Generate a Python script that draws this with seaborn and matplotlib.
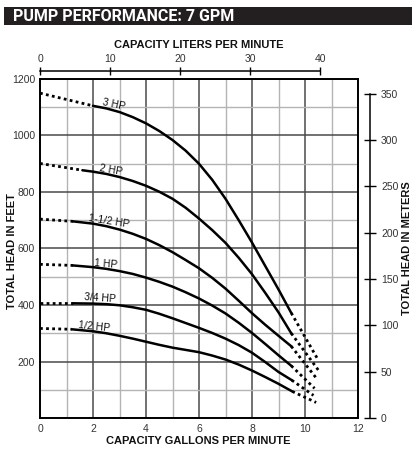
import matplotlib
matplotlib.use("Agg")
import matplotlib.pyplot as plt
import matplotlib.patches as mpatches
from matplotlib.ticker import MultipleLocator, FixedLocator
import pandas as pd
import seaborn as sns

# pump curves, capacity in gallons per minute vs total head in feet
hp = ["3 HP", "2 HP", "1-1/2 HP", "1 HP", "3/4 HP", "1/2 HP"]

gpm_3 = [2, 2.5, 3, 3.5, 4, 4.5, 5, 5.5, 6, 6.5, 7, 7.5, 8, 8.5, 9, 9.48]
ft_3 = [1105, 1096, 1083, 1065, 1043, 1016, 984, 946, 900, 843, 776, 700,
        621, 538, 455, 372]

gpm_2 = [1.6, 2, 2.5, 3, 3.5, 4, 4.5, 5, 5.5, 6, 6.5, 7, 7.5, 8, 8.5, 9, 9.48]
ft_2 = [877, 872, 864, 853, 839, 822, 801, 776, 744, 706, 665, 620, 567,
        509, 443, 374, 300]

gpm_15 = [1.25, 2, 2.5, 3, 3.5, 4, 4.5, 5, 5.5, 6, 6.5, 7, 7.5, 8, 8.5, 9,
          9.48]
ft_15 = [696, 688, 679, 667, 652, 634, 612, 587, 559, 530, 496, 458, 415,
         371, 330, 291, 254]

gpm_1 = [1.25, 2, 2.5, 3, 3.5, 4, 4.5, 5, 5.5, 6, 6.5, 7, 7.5, 8, 8.5, 9,
         9.48]
ft_1 = [540, 534, 528, 520, 510, 497, 482, 465, 445, 423, 398, 370, 337,
        301, 262, 222, 185]

gpm_34 = [1.25, 2, 2.5, 3, 3.5, 4, 4.5, 5, 5.5, 6, 6.5, 7, 7.5, 8, 8.5, 9,
          9.5]
ft_34 = [406, 405, 403, 399, 392, 383, 369, 353, 336, 319, 301, 281, 258,
         231, 198, 163, 134]

gpm_12 = [1.2, 2, 2.5, 3, 3.5, 4, 4.5, 5, 5.5, 6, 6.5, 7, 7.5, 8, 8.5, 9,
          9.52]
ft_12 = [314, 307, 300, 291, 281, 270, 259, 249, 241, 233, 221, 207, 189,
         168, 145, 121, 94]

# dotted extensions: head at shut-off and the run-out end points
shutoff_ft = [1150, 901, 704, 544, 406, 317]
runout_gpm = [10.5, 10.5, 10.42, 10.36, 10.32, 10.42]
runout_ft = [205, 170, 142, 105, 80, 55]

curves = [(gpm_3, ft_3), (gpm_2, ft_2), (gpm_15, ft_15),
          (gpm_1, ft_1), (gpm_34, ft_34), (gpm_12, ft_12)]

solid = pd.concat([pd.DataFrame({"gpm": g, "ft": f, "hp": n})
                   for n, (g, f) in zip(hp, curves)])
dotted = pd.concat(
    [pd.DataFrame({"gpm": [0, g[0]], "ft": [s, f[0]], "hp": n + " a"})
     for n, (g, f), s in zip(hp, curves, shutoff_ft)] +
    [pd.DataFrame({"gpm": [g[-1], rg], "ft": [f[-1], rf], "hp": n + " b"})
     for n, (g, f), rg, rf in zip(hp, curves, runout_gpm, runout_ft)])

sns.set_theme(style="white")
plt.rcParams["font.family"] = ["Liberation Sans", "DejaVu Sans"]

W, H = 416, 451
fig = plt.figure(figsize=(W / 100, H / 100), dpi=100)
ax = fig.add_axes([40 / W, 33 / H, 318 / W, 339 / H])

# title bar
fig.patches.append(mpatches.Rectangle((4 / W, 1 - 25 / H), 408 / W, 18 / H,
                                      transform=fig.transFigure,
                                      facecolor="#231f20", edgecolor="none"))
fig.text(13 / W, 1 - 16.5 / H, "PUMP PERFORMANCE: 7 GPM", color="white",
         fontsize=11.5, fontweight="bold", va="center", ha="left",
         family=["Roboto", "Liberation Sans", "DejaVu Sans"])

sns.lineplot(data=solid, x="gpm", y="ft", hue="hp", palette=["black"] * 6,
             sort=False, estimator=None, legend=False, lw=1.8, ax=ax)
sns.lineplot(data=dotted, x="gpm", y="ft", hue="hp", palette=["black"] * 12,
             sort=False, estimator=None, legend=False, lw=2.0,
             linestyle=(0, (1, 1.2)), ax=ax)

ax.set_xlim(0, 12)
ax.set_ylim(0, 1200)
ax.xaxis.set_major_locator(MultipleLocator(2))
ax.xaxis.set_minor_locator(MultipleLocator(1))
ax.yaxis.set_major_locator(MultipleLocator(200))
ax.yaxis.set_minor_locator(MultipleLocator(100))
ax.set_yticks(range(0, 1201, 200))
ax.set_yticklabels([""] + [str(v) for v in range(200, 1201, 200)])
ax.grid(which="major", color="#4a4a4a", lw=1.1)
ax.grid(which="minor", color="#b4b4b4", lw=1.0)
ax.set_axisbelow(True)
ax.tick_params(which="both", length=0, labelsize=7.5, labelcolor="#333333")
ax.tick_params(axis="x", pad=4)
ax.tick_params(axis="y", pad=3.5)
for s in ax.spines.values():
    s.set_visible(True)
    s.set_color("black")
    s.set_linewidth(1.4)
ax.set_xlabel("")
ax.set_ylabel("")

# curve labels
label_pos = [(2.79, 1111, -12), (2.68, 879, -10), (2.6, 698, -9),
             (2.49, 544, -5), (2.25, 425, -4), (2.06, 323, -6)]
for name, (x, y, r) in zip(hp, label_pos):
    ax.text(x, y, name, fontsize=7.5, rotation=r, ha="center", va="center",
            color="#111111", rotation_mode="anchor")

# meters axis on the right
axm = ax.twinx()
axm.set_ylim(0, 1200 * 0.3048)
for k in ["top", "bottom", "left"]:
    axm.spines[k].set_visible(False)
axm.spines["right"].set_position(("outward", 8.6))
axm.spines["right"].set_bounds(0, 350)
axm.spines["right"].set_color("black")
axm.spines["right"].set_linewidth(1.1)
axm.yaxis.set_major_locator(FixedLocator(range(0, 351, 50)))
axm.tick_params(axis="y", direction="inout", length=8, width=1.0, pad=4,
                labelsize=7.5, labelcolor="#333333", color="black")
axm.grid(False)

# liters axis on top
axl = ax.twiny()
axl.set_xlim(0, 12 * 3.78541)
for k in ["right", "bottom", "left"]:
    axl.spines[k].set_visible(False)
axl.spines["top"].set_position(("outward", 5.8))
axl.spines["top"].set_bounds(0, 40)
axl.spines["top"].set_color("black")
axl.spines["top"].set_linewidth(1.1)
axl.xaxis.set_major_locator(FixedLocator(range(0, 41, 10)))
axl.tick_params(axis="x", direction="inout", length=6, width=1.0, pad=2,
                labelsize=7.5, labelcolor="#333333", color="black")
axl.grid(False)

lab = dict(fontsize=8, fontweight="bold", color="#111111", ha="center",
           va="center")
fig.text(199 / W, 1 - 45 / H, "CAPACITY LITERS PER MINUTE", **lab)
fig.text(198 / W, 1 - 441 / H, "CAPACITY GALLONS PER MINUTE", **lab)
fig.text(12 / W, 1 - 251 / H, "TOTAL HEAD IN FEET", rotation=90, **lab)
fig.text(407 / W, 1 - 248 / H, "TOTAL HEAD IN METERS", rotation=90, **lab)

fig.savefig("out.png", dpi=100, facecolor="white")
